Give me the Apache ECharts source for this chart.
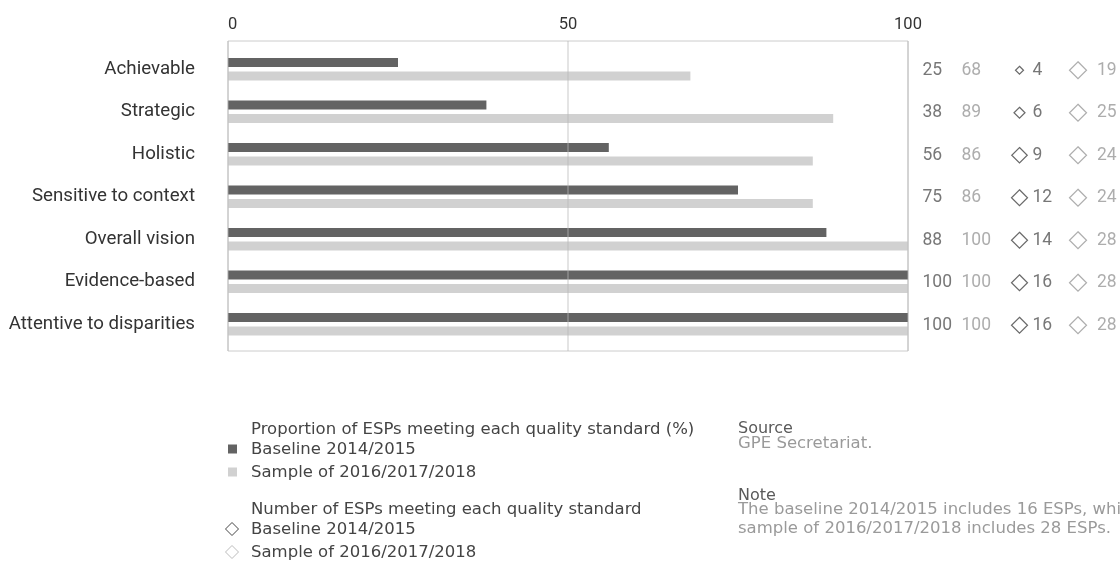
<!DOCTYPE html>
<html>
<head>
<meta charset="utf-8">
<script src="https://cdn.jsdelivr.net/npm/echarts@6/dist/echarts.min.js"></script>
<style>
html,body{margin:0;padding:0;background:#fff;}
#chart{width:1120px;height:563px;}
</style>
</head>
<body>
<div id="chart"></div>
<script>
const categories = ['Achievable','Strategic','Holistic','Sensitive to context','Overall vision','Evidence-based','Attentive to disparities'];
const baselinePct = [25,38,56,75,88,100,100];
const samplePct = [68,89,86,86,100,100,100];
const baselineCount = [4,6,9,12,14,16,16];
const sampleCount = [19,25,24,24,28,28,28];
const axisTicks = [0,50,100];

const seriesNames = ['Baseline 2014/2015','Sample of 2016/2017/2018'];
const legendTitles = ['Proportion of ESPs meeting each quality standard (%)','Number of ESPs meeting each quality standard'];
const sourceTitle = 'Source';
const sourceText = 'GPE Secretariat.';
const noteTitle = 'Note';
const noteText = 'The baseline 2014/2015 includes 16 ESPs, while the';
const noteText2 = 'sample of 2016/2017/2018 includes 28 ESPs.';

const FONT = 'Roboto';
const LFONT = '"DejaVu Sans"';
const DARK = '#636363';
const LIGHT = '#d1d1d1';

// layout columns (in grid 2 axis units = px from grid left)
const COL = {pctBase: 22, pctSample: 61, dBase: 119.5, tBase: 132, dSample: 178, tSample: 196.5};

function textSeries(col, values, color) {
  return {
    type: 'scatter', xAxisIndex: 2, yAxisIndex: 2, silent: true,
    symbol: 'circle', symbolSize: 1,
    itemStyle: {color: 'rgba(0,0,0,0)'},
    label: {show: true, position: 'right', distance: 0, offset: [0, 1], color: color, fontFamily: FONT, fontSize: 17.5,
      formatter: p => String(p.value[2])},
    emphasis: {disabled: true},
    data: values.map((v, i) => [col, i, v])
  };
}
function diamondSeries(col, values, color, cap) {
  return {
    type: 'scatter', xAxisIndex: 2, yAxisIndex: 2, silent: true,
    symbol: 'diamond',
    symbolSize: v => Math.min(cap, 2 + 1.5 * v[2]),
    symbolOffset: [0, 1],
    itemStyle: {color: '#fff', borderColor: color, borderWidth: 1.2},
    emphasis: {disabled: true},
    data: values.map((v, i) => [col, i, v])
  };
}

const chart = echarts.init(document.getElementById('chart'), null, {renderer: 'canvas'});

function txt(x, y, text, size, fill) {
  return {type: 'text', x: x, y: y, silent: true,
    style: {text: text, fontFamily: LFONT, fontSize: size, fill: fill, verticalAlign: 'middle', align: 'left'}};
}
const LG = 16.5, LGC = '#444';
const option = {
  animation: false,
  grid: [
    {left: 228, top: 41, width: 680, height: 310, show: true, borderColor: '#cccccc', borderWidth: 1, backgroundColor: 'transparent'},
    {left: 228, top: 48, width: 680, height: 297.5},
    {left: 900, top: 48, width: 220, height: 297.5}
  ],
  xAxis: [
    {gridIndex: 0, type: 'value', position: 'top', min: axisTicks[0], max: axisTicks[axisTicks.length - 1], interval: axisTicks[1] - axisTicks[0], z: 5,
      axisLine: {show: false}, axisTick: {show: false},
      axisLabel: {color: '#333', fontFamily: FONT, fontSize: 16.5, margin: 8, alignMinLabel: 'left'},
      splitLine: {show: true, lineStyle: {color: 'rgba(183,183,183,0.5)', width: 1.5}}},
    {gridIndex: 1, type: 'value', min: 0, max: 100, show: false},
    {gridIndex: 2, type: 'value', min: 0, max: 220, show: false}
  ],
  yAxis: [
    {gridIndex: 0, type: 'category', data: categories, show: false},
    {gridIndex: 1, type: 'category', data: categories, inverse: true,
      axisLine: {show: false}, axisTick: {show: false},
      axisLabel: {color: '#333', fontFamily: FONT, fontSize: 18.7, margin: 33, padding: [3, 0, 0, 0]}},
    {gridIndex: 2, type: 'category', data: categories, inverse: true, show: false}
  ],
  series: [
    {name: seriesNames[0], type: 'bar', xAxisIndex: 1, yAxisIndex: 1, data: baselinePct, barWidth: 9, barGap: '50%',
      itemStyle: {color: DARK}, silent: true, emphasis: {disabled: true}},
    {name: seriesNames[1], type: 'bar', xAxisIndex: 1, yAxisIndex: 1, data: samplePct, barWidth: 9, barGap: '50%',
      itemStyle: {color: LIGHT}, silent: true, emphasis: {disabled: true}},
    textSeries(COL.pctBase, baselinePct, '#555'),
    textSeries(COL.pctSample, samplePct, '#999'),
    diamondSeries(COL.dBase, baselineCount, '#444', 16),
    textSeries(COL.tBase, baselineCount, '#555'),
    diamondSeries(COL.dSample, sampleCount, '#999', 17),
    textSeries(COL.tSample, sampleCount, '#999')
  ],
  graphic: [
    txt(251, 430, legendTitles[0], LG, LGC),
    {type: 'rect', x: 228, y: 444.5, shape: {width: 9, height: 9}, style: {fill: DARK}},
    txt(251, 450, seriesNames[0], LG, LGC),
    {type: 'rect', x: 228, y: 467.5, shape: {width: 9, height: 9}, style: {fill: LIGHT}},
    txt(251, 473, seriesNames[1], LG, LGC),
    txt(251, 510, legendTitles[1], LG, LGC),
    {type: 'polygon', shape: {points: [[232, 522.5], [238.5, 529], [232, 535.5], [225.5, 529]]}, style: {fill: '#fff', stroke: '#444', lineWidth: 1}},
    txt(251, 530, seriesNames[0], LG, LGC),
    {type: 'polygon', shape: {points: [[232, 545.5], [238.5, 552], [232, 558.5], [225.5, 552]]}, style: {fill: '#fff', stroke: '#bbb', lineWidth: 1}},
    txt(251, 553, seriesNames[1], LG, LGC),

    txt(738, 428.5, sourceTitle, 16, '#5a5a5a'),
    txt(738, 443.5, sourceText, 16.5, '#9a9a9a'),
    txt(738, 495.5, noteTitle, 16, '#5a5a5a'),
    txt(738, 510, noteText, 16.5, '#9a9a9a'),
    txt(738, 529, noteText2, 16.5, '#9a9a9a')
  ]
};
chart.setOption(option);
</script>
</body>
</html>
